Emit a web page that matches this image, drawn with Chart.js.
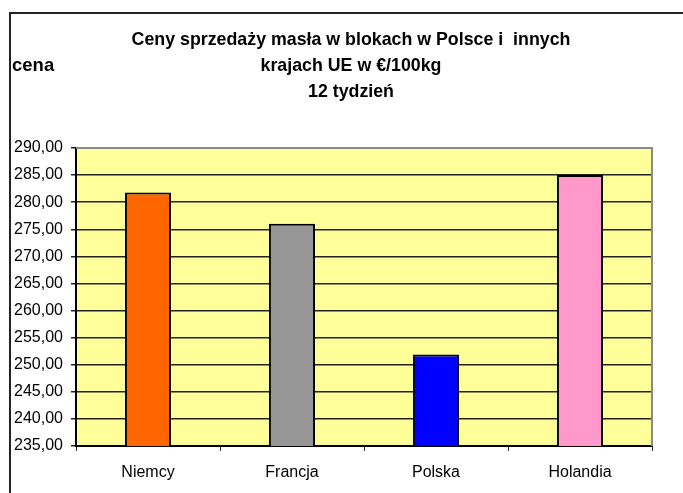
<!DOCTYPE html>
<html>
<head>
<meta charset="utf-8">
<script src="https://cdn.jsdelivr.net/npm/chart.js@4.4.1/dist/chart.umd.min.js"></script>
<style>
  html, body { margin: 0; padding: 0; background: #fff; }
  #wrap { position: relative; width: 683px; height: 493px; overflow: hidden; }
  #frame { position: absolute; left: 9px; top: 12px; width: 700px; height: 500px; border-left: 2px solid #222; border-top: 2px solid #222; box-sizing: border-box; }
  canvas { position: absolute; left: 0; top: 0; }
</style>
</head>
<body>
<div id="wrap">
  <div id="frame"></div>
  <canvas id="c" width="683" height="493"></canvas>
</div>
<script>
const categories = ["Niemcy", "Francja", "Polska", "Holandia"];
const values = [281.8, 276.0, 251.9, 285.0];
const barColors = ["#FF6600", "#969696", "#0000FF", "#FF99CC"];
const titleLines = ["Ceny sprzedaży masła w blokach w Polsce i  innych", "krajach UE w €/100kg", "12 tydzień"];
const yAxisLabel = "cena";
const yMin = 235, yMax = 290, yStep = 5;

const FONT = "'Liberation Sans', Arial, sans-serif";

const bgPlugin = {
  id: 'plotBg',
  beforeDraw(chart) {
    const {ctx, chartArea: a} = chart;
    ctx.save();
    ctx.fillStyle = '#FFFF99';
    ctx.fillRect(a.left, a.top, a.right - a.left, a.bottom - a.top);
    ctx.restore();
  },
  afterDraw(chart) {
    const {ctx, chartArea: a} = chart;
    ctx.save();
    ctx.strokeStyle = '#8a8a8a';
    ctx.lineWidth = 2;
    ctx.beginPath();
    ctx.moveTo(a.left, a.top);
    ctx.lineTo(a.right, a.top);
    ctx.lineTo(a.right, a.bottom);
    ctx.stroke();
    ctx.fillStyle = '#000';
    ctx.font = 'bold 17.8px ' + FONT;
    ctx.textAlign = 'center';
    ctx.textBaseline = 'middle';
    titleLines.forEach((t, i) => ctx.fillText(t, 351, 40 + i * 26));
    ctx.textAlign = 'left';
    ctx.font = 'bold 18.5px ' + FONT;
    ctx.fillText(yAxisLabel, 12, 66);
    ctx.restore();
  }
};

new Chart(document.getElementById('c'), {
  type: 'bar',
  data: {
    labels: categories,
    datasets: [{
      data: values,
      backgroundColor: barColors,
      borderColor: '#000',
      borderWidth: 2,
      borderSkipped: false,
      barPercentage: 0.32,
      categoryPercentage: 1.0
    }]
  },
  options: {
    responsive: false,
    animation: false,
    devicePixelRatio: 1,
    layout: { padding: { top: 148, right: 31, left: 0, bottom: 0 } },
    plugins: { legend: { display: false }, tooltip: { enabled: false }, title: { display: false } },
    scales: {
      y: {
        min: yMin, max: yMax,
        afterFit(s) { s.width = 76; },
        ticks: {
          stepSize: yStep,
          color: '#000',
          padding: 8,
          font: { family: FONT, size: 16 },
          callback: v => v.toFixed(2).replace('.', ',')
        },
        grid: { color: '#222', lineWidth: 1.5, tickLength: 5, drawTicks: true },
        border: { color: '#000', width: 2 }
      },
      x: {
        afterFit(s) { s.height = 47; },
        ticks: { color: '#000', padding: 12, font: { family: FONT, size: 16 } },
        grid: { offset: true, drawOnChartArea: false, tickLength: 5, color: '#222' },
        border: { color: '#000', width: 2 }
      }
    }
  },
  plugins: [bgPlugin]
});
</script>
</body>
</html>
